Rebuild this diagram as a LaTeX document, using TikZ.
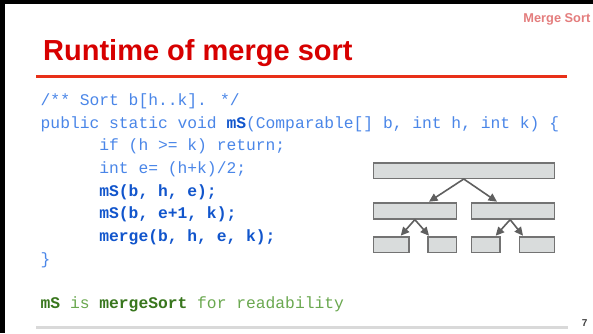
\documentclass[tikz,border=0pt]{standalone}
\usepackage{fontspec}
\usetikzlibrary{arrows.meta,calc}
\newfontfamily\arialf{Liberation Sans}
\newfontfamily\courf{Liberation Mono}
\newcommand\codefont{\courf\fontsize{16.3}{16.3}\selectfont}
\definecolor{titlered}{RGB}{215,0,0}
\definecolor{rulered}{RGB}{232,48,24}
\definecolor{headred}{RGB}{228,125,125}
\definecolor{codeblue}{RGB}{74,134,232}
\definecolor{codebold}{RGB}{17,85,204}
\definecolor{codegreen}{RGB}{106,168,79}
\definecolor{boldgreen}{RGB}{56,118,29}
\definecolor{boxfill}{RGB}{217,220,220}
\definecolor{boxline}{RGB}{115,115,115}
\definecolor{arrgray}{RGB}{95,95,95}
\definecolor{footgray}{RGB}{217,217,217}
\tikzset{
  code/.style={anchor=base west, inner sep=0pt, font=\codefont, text=codeblue},
  boldcode/.style={code, text=codebold},
  greencode/.style={code, text=codegreen},
  box/.style={draw=boxline, fill=boxfill, line width=1.3pt, inner sep=0pt, anchor=north west},
  arr/.style={draw=arrgray, line width=1.6pt, -{Triangle[length=8.5pt,width=8pt]}}
}
\begin{document}
\begin{tikzpicture}[x=1pt,y=-1pt]
\useasboundingbox (0,0) rectangle (593,333);
\fill[white] (0,0) rectangle (593,333);
% frame
\fill[black] (0,0) rectangle (593,3.5);
\fill[black] (0,0) rectangle (5,333);
% header
\node[anchor=base east, inner sep=0pt, font=\arialf\bfseries\fontsize{12.8}{12.8}\selectfont, text=headred] (hdr) at (590.5,22) {Merge Sort};
\node[anchor=base west, inner sep=0pt, font=\arialf\bfseries\fontsize{29}{29}\selectfont, text=titlered] (title) at (43,60.3) {Runtime of merge sort};
\draw[rulered, line width=2.7pt] (36,76.8) -- (567,76.8);
% code
\node[code] (l0) at (40.5,105.5) {/** Sort b[h..k]. */};
\node[code] (l1) at (40.5,128.2) {public static void \textbf{\textcolor{codebold}{mS}}(Comparable[] b, int h, int k) \{};
\node[code] (l2) at (99.2,150.8) {if (h >= k) return;};
\node[code] (l3) at (99.2,173.5) {int e= (h+k)/2;};
\node[boldcode] (l4) at (99.2,196.1) {\textbf{mS(b, h, e);}};
\node[boldcode] (l5) at (99.2,218.8) {\textbf{mS(b, e+1, k);}};
\node[boldcode] (l6) at (99.2,241.4) {\textbf{merge(b, h, e, k);}};
\node[code] (l7) at (40.5,264.1) {\}};
\node[greencode] (note) at (40.5,308.8) {\textbf{\textcolor{boldgreen}{mS}} is \textbf{\textcolor{boldgreen}{mergeSort}} for readability};
% diagram
\node[box, minimum width=180.8pt, minimum height=15.4pt] (t) at (372.7,162.3) {};
\node[box, minimum width=83pt, minimum height=16pt] (ml) at (372.7,202.3) {};
\node[box, minimum width=83pt, minimum height=16pt] (mr) at (471,202.3) {};
\node[box, minimum width=35.6pt, minimum height=15.7pt] (b1) at (372.7,236.3) {};
\node[box, minimum width=28.4pt, minimum height=15.7pt] (b2) at (427.3,236.3) {};
\node[box, minimum width=28.3pt, minimum height=15.7pt] (b3) at (471,236.3) {};
\node[box, minimum width=35.3pt, minimum height=15.7pt] (b4) at (518.7,236.3) {};
\draw[arr] (t.south) -- ($(ml.north west)+(56.3,-0.6)$);
\draw[arr] (t.south) -- ($(mr.north west)+(26,-0.6)$);
\draw[arr] (ml.south) -- ($(b1.north west)+(28,-0.6)$);
\draw[arr] (ml.south) -- ($(b2.north west)+(1.7,-0.6)$);
\draw[arr] ($(mr.south)+(-3,0)$) -- ($(b3.north west)+(24.7,-0.6)$);
\draw[arr] ($(mr.south)+(-3,0)$) -- ($(b4.north west)+(4.3,-0.6)$);
% footer
\draw[footgray, line width=2.7pt] (36,327.3) -- (568,327.3);
\node[anchor=base east, inner sep=0pt, font=\arialf\bfseries\fontsize{10}{10}\selectfont, text=black!75] (pg) at (587.5,326) {7};
\end{tikzpicture}
\end{document}
